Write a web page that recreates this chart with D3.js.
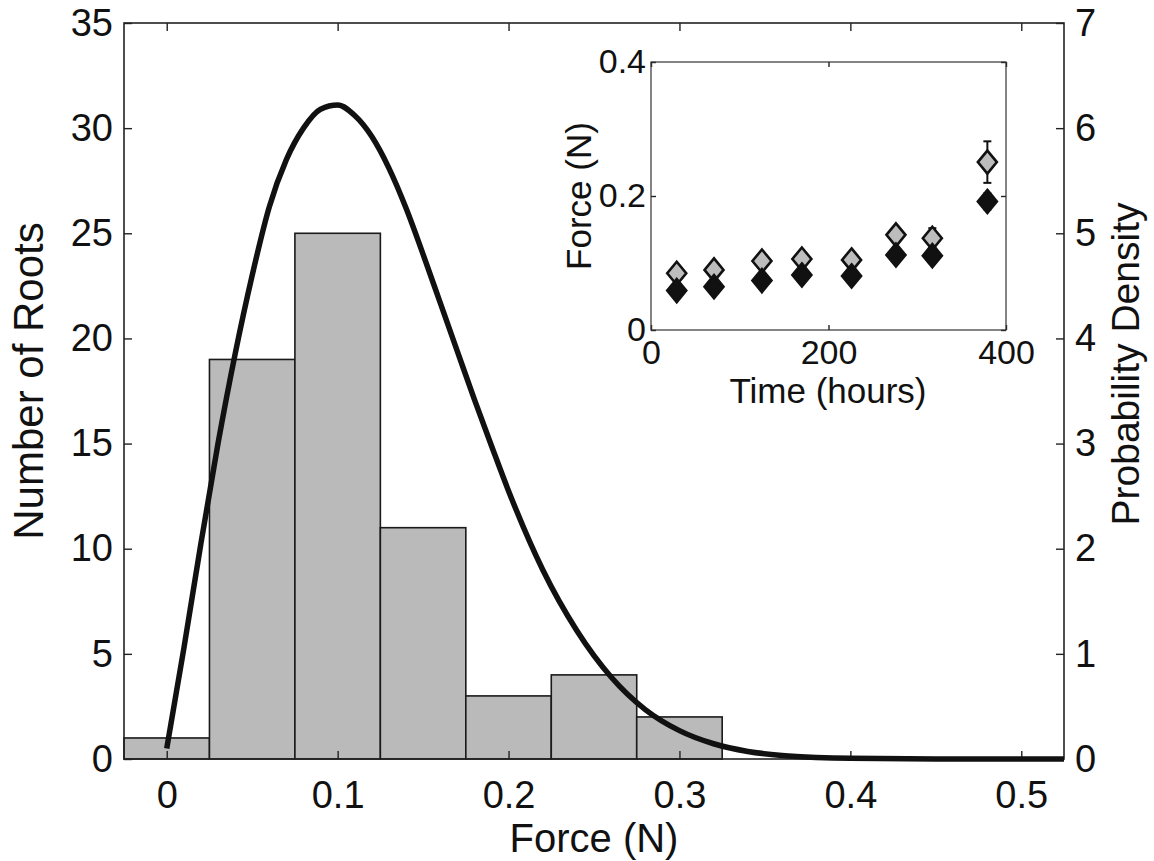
<!DOCTYPE html>
<html>
<head>
<meta charset="utf-8">
<script src="https://cdn.jsdelivr.net/npm/d3@7"></script>
<style>
  html, body { margin: 0; padding: 0; background: #fff; }
  svg text { font-family: "Liberation Sans", Arial, Helvetica, sans-serif; fill: #111; }
</style>
</head>
<body>
<svg id="chart" width="1154" height="861"></svg>
<script>
// ---------- data ----------
const binCenters = [0, 0.05, 0.1, 0.15, 0.2, 0.25, 0.3];
const binCounts = [1, 19, 25, 11, 3, 4, 2];
const binWidth = 0.05;

// fitted density curve
const curveForce = [0, 0.01, 0.02, 0.03, 0.04, 0.05, 0.06, 0.07, 0.08, 0.09, 0.10, 0.11, 0.12, 0.13, 0.14, 0.15, 0.16, 0.17, 0.18, 0.19, 0.20, 0.22, 0.24, 0.26, 0.28, 0.30, 0.32, 0.34, 0.36, 0.38, 0.40, 0.45, 0.525];
const curveDensity = [0.1, 1.05, 2.05, 3.0, 3.85, 4.6, 5.25, 5.7, 6.0, 6.18, 6.22, 6.12, 5.92, 5.62, 5.24, 4.8, 4.34, 3.88, 3.42, 2.98, 2.55, 1.80, 1.22, 0.78, 0.47, 0.27, 0.145, 0.072, 0.034, 0.015, 0.006, 0.0005, 0.0];

const xTicks = [0, 0.1, 0.2, 0.3, 0.4, 0.5];
const xTickLabels = ["0", "0.1", "0.2", "0.3", "0.4", "0.5"];
const countTicks = [0, 5, 10, 15, 20, 25, 30, 35];
const countTickLabels = ["0", "5", "10", "15", "20", "25", "30", "35"];
const densTicks = [0, 1, 2, 3, 4, 5, 6, 7];
const densTickLabels = ["0", "1", "2", "3", "4", "5", "6", "7"];

// inset
const insetTime = [29, 71, 125, 170, 226, 276, 317, 379];
const insetForceGray = [0.0847, 0.0897, 0.103, 0.106, 0.1046, 0.142, 0.137, 0.2506];
const insetErrGray = [0.006, 0.006, 0.006, 0.006, 0.006, 0.008, 0.015, 0.031];
const insetForceDark = [0.0588, 0.0647, 0.0737, 0.0822, 0.0807, 0.112, 0.111, 0.1919];
const insetErrDark = [0.005, 0.005, 0.005, 0.005, 0.005, 0.006, 0.006, 0.012];
const insetXTicks = [0, 200, 400];
const insetXTickLabels = ["0", "200", "400"];
const insetYTicks = [0, 0.2, 0.4];
const insetYTickLabels = ["0", "0.2", "0.4"];

// ---------- layout ----------
const L = 124, R = 1064, T = 23, B = 759;
const IL = 651, IR = 1006, IT = 62, IB = 330;

const svg = d3.select("#chart");

const x = d3.scaleLinear().domain([-0.025, 0.525]).range([L, R]);
const yC = d3.scaleLinear().domain([0, 35]).range([B, T]);
const yD = d3.scaleLinear().domain([0, 7]).range([B, T]);

// bars
svg.append("g").selectAll("rect")
  .data(binCenters.map((c, i) => ({ c, n: binCounts[i] })))
  .join("rect")
  .attr("x", d => x(d.c - binWidth / 2))
  .attr("width", d => x(d.c + binWidth / 2) - x(d.c - binWidth / 2))
  .attr("y", d => yC(d.n))
  .attr("height", d => yC(0) - yC(d.n))
  .attr("fill", "#bababa")
  .attr("stroke", "#1a1a1a")
  .attr("stroke-width", 1.6);

// axes (ticks inward)
function styleAxis(g, fs) {
  g.select(".domain").remove();
  g.selectAll(".tick line").attr("stroke", "#222").attr("stroke-width", 1.4);
  g.selectAll(".tick text").attr("font-size", fs).attr("fill", "#111");
}
const fmtFrom = (vals, labels) => d => labels[vals.indexOf(d)];

svg.append("g").attr("transform", `translate(0,${B})`)
  .call(d3.axisBottom(x).tickValues(xTicks).tickFormat(fmtFrom(xTicks, xTickLabels)).tickSize(-8).tickPadding(22))
  .call(g => styleAxis(g, 38));
svg.append("g").attr("transform", `translate(0,${T})`)
  .call(d3.axisTop(x).tickValues(xTicks).tickFormat("").tickSize(-8))
  .call(g => styleAxis(g, 38));
svg.append("g").attr("transform", `translate(${L},0)`)
  .call(d3.axisLeft(yC).tickValues(countTicks).tickFormat(fmtFrom(countTicks, countTickLabels)).tickSize(-8).tickPadding(11))
  .call(g => styleAxis(g, 38));
svg.append("g").attr("transform", `translate(${R},0)`)
  .call(d3.axisRight(yD).tickValues(densTicks).tickFormat(fmtFrom(densTicks, densTickLabels)).tickSize(-8).tickPadding(11))
  .call(g => styleAxis(g, 38));

// frame
svg.append("rect").attr("x", L).attr("y", T).attr("width", R - L).attr("height", B - T)
  .attr("fill", "none").attr("stroke", "#222").attr("stroke-width", 1.6);

// density curve
const line = d3.line()
  .x((d, i) => x(curveForce[i]))
  .y(d => yD(d))
  .curve(d3.curveMonotoneX);
svg.append("path").datum(curveDensity)
  .attr("d", line)
  .attr("fill", "none")
  .attr("stroke", "#111")
  .attr("stroke-width", 5.5)
  .attr("stroke-linejoin", "round");

// axis labels
svg.append("text").attr("x", (L + R) / 2).attr("y", 852)
  .attr("text-anchor", "middle").attr("font-size", 40).text("Force (N)");
svg.append("text").attr("transform", `translate(43,${381}) rotate(-90)`)
  .attr("text-anchor", "middle").attr("font-size", 42).text("Number of Roots");
svg.append("text").attr("transform", `translate(1139,${364}) rotate(-90)`)
  .attr("text-anchor", "middle").attr("font-size", 39).text("Probability Density");

// ---------- inset ----------
const xi = d3.scaleLinear().domain([0, 400]).range([IL, IR]);
const yi = d3.scaleLinear().domain([0, 0.4]).range([IB, IT]);

svg.append("rect").attr("x", IL).attr("y", IT).attr("width", IR - IL).attr("height", IB - IT)
  .attr("fill", "#fff").attr("stroke", "none");

svg.append("g").attr("transform", `translate(0,${IB})`)
  .call(d3.axisBottom(xi).tickValues(insetXTicks).tickFormat(fmtFrom(insetXTicks, insetXTickLabels)).tickSize(-5).tickPadding(10))
  .call(g => styleAxis(g, 34));
svg.append("g").attr("transform", `translate(0,${IT})`)
  .call(d3.axisTop(xi).tickValues(insetXTicks).tickFormat("").tickSize(-5))
  .call(g => styleAxis(g, 34));
svg.append("g").attr("transform", `translate(${IL},0)`)
  .call(d3.axisLeft(yi).tickValues(insetYTicks).tickFormat(fmtFrom(insetYTicks, insetYTickLabels)).tickSize(-5).tickPadding(5))
  .call(g => styleAxis(g, 34));
svg.append("g").attr("transform", `translate(${IR},0)`)
  .call(d3.axisRight(yi).tickValues(insetYTicks).tickFormat("").tickSize(-5))
  .call(g => styleAxis(g, 34));

svg.append("rect").attr("x", IL).attr("y", IT).attr("width", IR - IL).attr("height", IB - IT)
  .attr("fill", "none").attr("stroke", "#333").attr("stroke-width", 1.2);

const diamond = "M0,-11.5L9.5,0L0,11.5L-9.5,0Z";

function drawSeries(vals, errs, fill, stroke) {
  const g = svg.append("g");
  const data = insetTime.map((t, i) => ({ t, v: vals[i], e: errs[i] }));
  const eb = g.append("g").attr("stroke", "#111").attr("stroke-width", 2);
  eb.selectAll("line.v").data(data).join("line")
    .attr("x1", d => xi(d.t)).attr("x2", d => xi(d.t))
    .attr("y1", d => yi(d.v - d.e)).attr("y2", d => yi(d.v + d.e));
  eb.selectAll("line.t").data(data).join("line")
    .attr("x1", d => xi(d.t) - 4).attr("x2", d => xi(d.t) + 4)
    .attr("y1", d => yi(d.v + d.e)).attr("y2", d => yi(d.v + d.e));
  eb.selectAll("line.b").data(data).join("line")
    .attr("x1", d => xi(d.t) - 4).attr("x2", d => xi(d.t) + 4)
    .attr("y1", d => yi(d.v - d.e)).attr("y2", d => yi(d.v - d.e));
  g.selectAll("path").data(data).join("path")
    .attr("d", diamond)
    .attr("transform", d => `translate(${xi(d.t)},${yi(d.v)})`)
    .attr("fill", fill).attr("stroke", stroke).attr("stroke-width", 2.6)
    .attr("stroke-linejoin", "miter");
}
drawSeries(insetForceGray, insetErrGray, "#bdbdbd", "#111");
drawSeries(insetForceDark, insetErrDark, "#111", "#111");

svg.append("text").attr("x", 828).attr("y", 403)
  .attr("text-anchor", "middle").attr("font-size", 35).text("Time (hours)");
svg.append("text").attr("transform", `translate(591,${(IT + IB) / 2}) rotate(-90)`)
  .attr("text-anchor", "middle").attr("font-size", 35).text("Force (N)");
</script>
</body>
</html>
